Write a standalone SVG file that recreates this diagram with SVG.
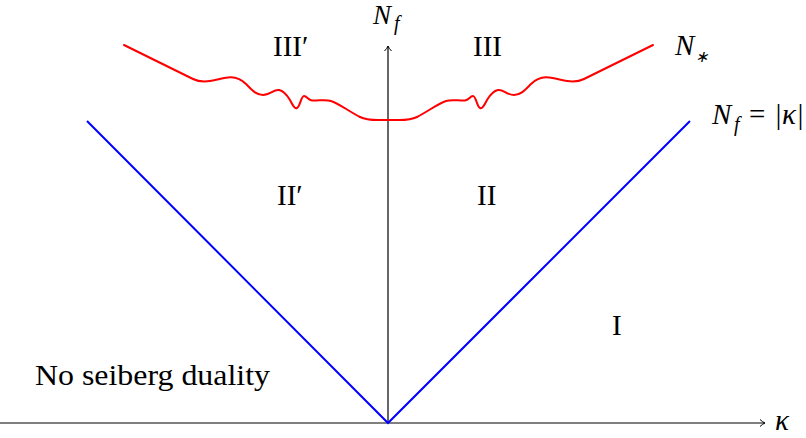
<svg xmlns="http://www.w3.org/2000/svg" width="806" height="438" viewBox="0 0 806 438">
<style>
.t{font-family:"Liberation Serif","Times New Roman",serif;font-size:29px;fill:#000}
.m{font-family:"Liberation Serif","Times New Roman",serif;font-style:italic;font-size:29px;fill:#000}
.ms{font-family:"Liberation Serif","Times New Roman",serif;font-style:italic;font-size:20px;fill:#000}
.ax{stroke:#000;stroke-width:1.2;fill:none}
.blue{stroke:#0000ff;stroke-width:2;fill:none}
.red{stroke:#ff0000;stroke-width:2;fill:none;stroke-linejoin:round;stroke-linecap:round}
</style>
<defs>
<marker id="arr" markerWidth="10" markerHeight="10" refX="7" refY="5" orient="auto" markerUnits="userSpaceOnUse">
<path d="M2,1.5 Q4.5,4 7,5 Q4.5,6 2,8.5" fill="none" stroke="#000" stroke-width="1"/>
</marker>
<path id="halfN" d="M124,45 L193,79 C198,81.5 203,82 210,81 C218,80 225,77 231,77.3 C237,77.5 241,79 246,84 C252,90 256,95 263,95 C270,95 274,89 279,90 C284,91 287,95 290,100 C293,106 295,109 297,108 C300,107 301,96 304,96 C307,96 308,100 312,100.5 C318,101 325,99 331,101 C338,103 350,112 360,117 C366,120 372,120 378,120 L388.5,120"/>
</defs>
<g id="connectors">
<line id="kappa-axis" class="ax" x1="0" y1="423" x2="765" y2="423" marker-end="url(#arr)"/>
<line id="nf-axis" class="ax" x1="388" y1="423" x2="388" y2="46" marker-end="url(#arr)"/>
<polyline id="abs-kappa" class="blue" points="87,121 388,423 690,121"/>
<g id="nstar-curve" class="red">
<use href="#halfN"/>
<use href="#halfN" transform="translate(777,0) scale(-1,1)"/>
</g>
</g>
<g id="label-Nf-axis"><text class="m" x="373" y="24" style="font-size:27px">N</text><text class="ms" x="394" y="30">f</text></g>
<g id="label-kappa-axis"><text class="m" x="775" y="430">κ</text></g>
<g id="label-Nstar"><text class="m" x="675" y="55">N</text><text class="ms" x="695" y="62" style="font-size:16px">∗</text></g>
<g id="label-Nf-abs"><text class="m" x="712" y="124">N</text><text class="ms" x="734" y="131">f</text><text class="t" x="749" y="124">=</text><text class="m" x="774" y="124">|κ|</text></g>
<g id="region-IIIp"><text class="t" x="273" y="56">III′</text></g>
<g id="region-III"><text class="t" x="473" y="56">III</text></g>
<g id="region-IIp"><text class="t" x="277" y="205">II′</text></g>
<g id="region-II"><text class="t" x="477" y="205">II</text></g>
<g id="region-I"><text class="t" x="612" y="335">I</text></g>
<g id="region-none"><text class="t" x="35" y="385" textLength="235" lengthAdjust="spacingAndGlyphs">No seiberg duality</text></g>
</svg>
